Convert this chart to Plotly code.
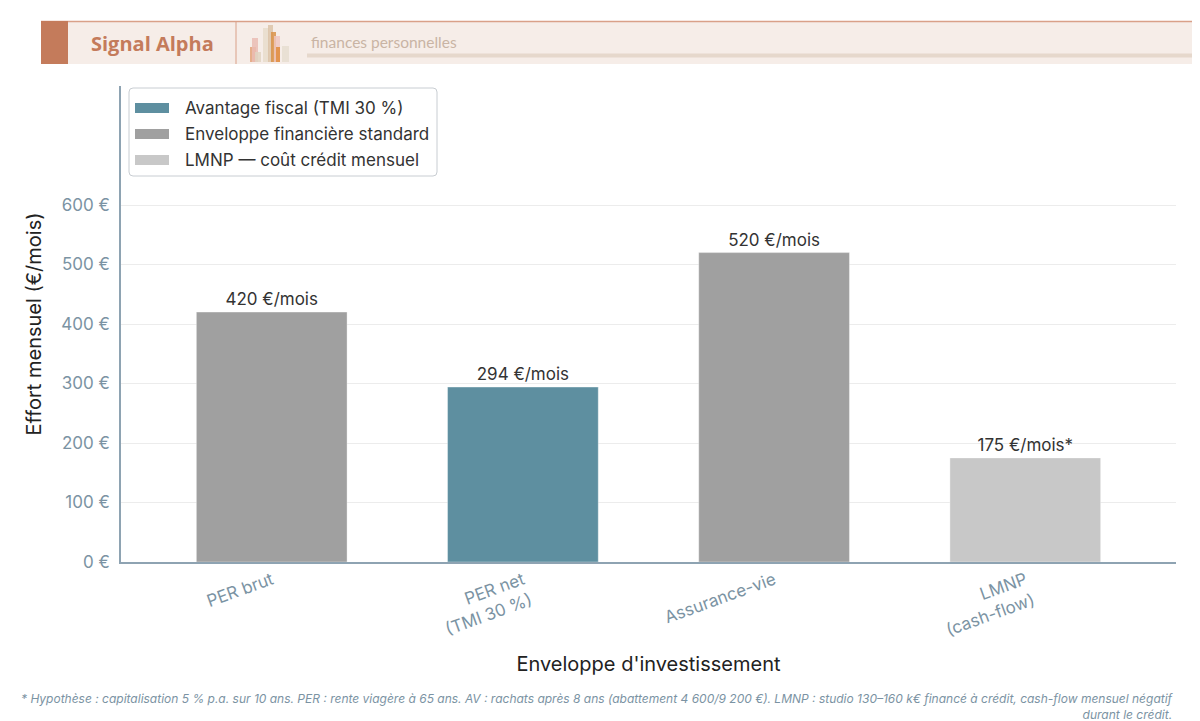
import plotly.graph_objects as go

# ---------------- data ----------------
categories = ["PER brut", "PER net<br>(TMI 30 %)", "Assurance-vie", "LMNP<br>(cash-flow)"]
values = [420, 294, 520, 175]
label_suffix = ["", "", "", "*"]
groups = ["Enveloppe financière standard", "Avantage fiscal (TMI 30 %)",
          "Enveloppe financière standard", "LMNP — coût crédit mensuel"]
series_order = ["Avantage fiscal (TMI 30 %)", "Enveloppe financière standard",
                "LMNP — coût crédit mensuel"]
series_colors = {"Avantage fiscal (TMI 30 %)": "#5e8fa0",
                 "Enveloppe financière standard": "#a0a0a0",
                 "LMNP — coût crédit mensuel": "#c8c8c8"}
y_ticks = [0, 100, 200, 300, 400, 500, 600]
y_ticklabels = [f"{v} €" for v in y_ticks]
footnote = ("* Hypothèse : capitalisation 5 % p.a. sur 10 ans. PER : rente viagère à 65 ans. "
            "AV : rachats après 8 ans (abattement 4 600/9 200 €). LMNP : studio 130–160 k€ "
            "financé à crédit, cash-flow mensuel négatif<br>durant le crédit.")

FONT = "Inter, Roboto, sans-serif"
W, H = 1200, 721
L, R, T, B = 113, 32, 78, 167
PW, PH = W - L - R, H - T - B


def px(x):
    return (x - L) / PW


def py(y):
    return (H - B - y) / PH


fig = go.Figure()
for s in series_order:
    xs = [categories[i] for i in range(len(categories)) if groups[i] == s]
    ys = [values[i] for i in range(len(values)) if groups[i] == s]
    txt = [f"{values[i]} €/mois{label_suffix[i]}" for i in range(len(values)) if groups[i] == s]
    fig.add_trace(go.Bar(
        x=xs, y=ys, name=s, text=txt, textposition="outside",
        textfont=dict(size=17, color="#333333", family=FONT),
        marker=dict(color=series_colors[s], line=dict(color="rgba(255,255,255,0.35)", width=1)),
        width=0.6, cliponaxis=False, showlegend=False,
    ))

shapes = [
    # header band
    dict(type="rect", xref="paper", yref="paper", x0=px(33), x1=px(1215), y0=py(56), y1=py(13),
         fillcolor="#f6ede8", line=dict(width=0), layer="below"),
    dict(type="line", xref="paper", yref="paper", x0=px(33), x1=px(1215), y0=py(13.5), y1=py(13.5),
         line=dict(color="#d9a088", width=1.5)),
    dict(type="rect", xref="paper", yref="paper", x0=px(33), x1=px(60), y0=py(56), y1=py(13),
         fillcolor="#c47b5b", line=dict(width=0)),
    dict(type="line", xref="paper", yref="paper", x0=px(228), x1=px(228), y0=py(56), y1=py(13),
         line=dict(color="#d9a088", width=1)),
    dict(type="rect", xref="paper", yref="paper", x0=px(299), x1=px(1215), y0=py(49.5), y1=py(45.5),
         fillcolor="#e6d8cc", line=dict(width=0)),
]
# header icon (decorative)
icon = [(242, 248, 39, 54, "#e3a27a"), (244, 250, 30, 54, "#eabcb4"), (247, 253, 44, 54, "#e0d3c2"),
        (255, 261, 20, 54, "#e8dccb"), (260, 265, 17, 54, "#dcc3a8"), (263, 268, 24, 54, "#d99248"),
        (266, 272, 28, 54, "#efc6c0"), (268, 272, 39, 54, "#e08a3a"), (274, 281, 38, 54, "#e6ddd0")]
for x0, x1, y0, y1, c in icon:
    shapes.append(dict(type="rect", xref="paper", yref="paper", x0=px(x0), x1=px(x1),
                       y0=py(y1), y1=py(y0), fillcolor=c, opacity=0.85, line=dict(width=0)))

# custom legend box (rounded) with wide swatches
lx0, lx1, ly0, ly1, rad = 121, 429, 80, 168, 4
rx, ry = rad / PW, rad / PH
X0, X1, Y0, Y1 = px(lx0), px(lx1), py(ly1), py(ly0)
path = (f"M {X0+rx},{Y0} L {X1-rx},{Y0} Q {X1},{Y0} {X1},{Y0+ry} L {X1},{Y1-ry} "
        f"Q {X1},{Y1} {X1-rx},{Y1} L {X0+rx},{Y1} Q {X0},{Y1} {X0},{Y1-ry} "
        f"L {X0},{Y0+ry} Q {X0},{Y0} {X0+rx},{Y0} Z")
shapes.append(dict(type="path", xref="paper", yref="paper", path=path,
                   fillcolor="white", line=dict(color="#c8cdd2", width=1)))

annotations = [
    dict(text="<b>Signal Alpha</b>", xref="paper", yref="paper", x=px(81), y=py(35),
         xanchor="left", yanchor="middle", showarrow=False,
         font=dict(family="Open Sans, sans-serif", size=20, color="#c47b5b")),
    dict(text="finances personnelles", xref="paper", yref="paper", x=px(301), y=py(34),
         xanchor="left", yanchor="middle", showarrow=False,
         font=dict(family="Lato, Open Sans, sans-serif", size=15.5, color="#c9b4a4")),
    dict(text="<i>" + footnote + "</i>", xref="paper", yref="paper", x=px(1168), y=py(681),
         xanchor="right", yanchor="top", align="right", showarrow=False,
         font=dict(family=FONT, size=12, color="#7b93a3")),
]

leg_y = [100, 126, 152]
for s, yy in zip(series_order, leg_y):
    shapes.append(dict(type="rect", xref="paper", yref="paper", x0=px(127), x1=px(161),
                       y0=py(yy + 5), y1=py(yy - 5), fillcolor=series_colors[s], line=dict(width=0)))
    annotations.append(dict(text=s, xref="paper", yref="paper", x=px(175), y=py(yy),
                            xanchor="left", yanchor="middle", showarrow=False,
                            font=dict(family=FONT, size=17, color="#333333")))

fig.update_layout(
    width=W, height=H,
    margin=dict(l=L, r=R, t=T, b=B),
    paper_bgcolor="white", plot_bgcolor="white",
    barmode="overlay",
    font=dict(family=FONT, color="#333333"),
    showlegend=False,
    shapes=shapes, annotations=annotations,
    xaxis=dict(categoryorder="array", categoryarray=categories, range=[-0.6, 3.6],
               showline=True, linecolor="#8ea3b2", linewidth=1.5, ticks="",
               tickangle=-20, tickfont=dict(size=17, color="#7b93a3", family=FONT),
               title=dict(text="Enveloppe d'investissement", font=dict(size=20, color="#222222"),
                          standoff=18)),
    yaxis=dict(range=[0, 800], tickvals=y_ticks, ticktext=y_ticklabels,
               showline=True, linecolor="#8ea3b2", linewidth=1.5,
               showgrid=True, gridcolor="#ececec", gridwidth=1, zeroline=False,
               tickfont=dict(size=17, color="#7b93a3", family=FONT), ticks="", ticklen=0,
               ticklabelstandoff=6,
               title=dict(text="Effort mensuel (€/mois)", font=dict(size=20, color="#222222"),
                          standoff=14)),
)

fig.write_html("out.html")
